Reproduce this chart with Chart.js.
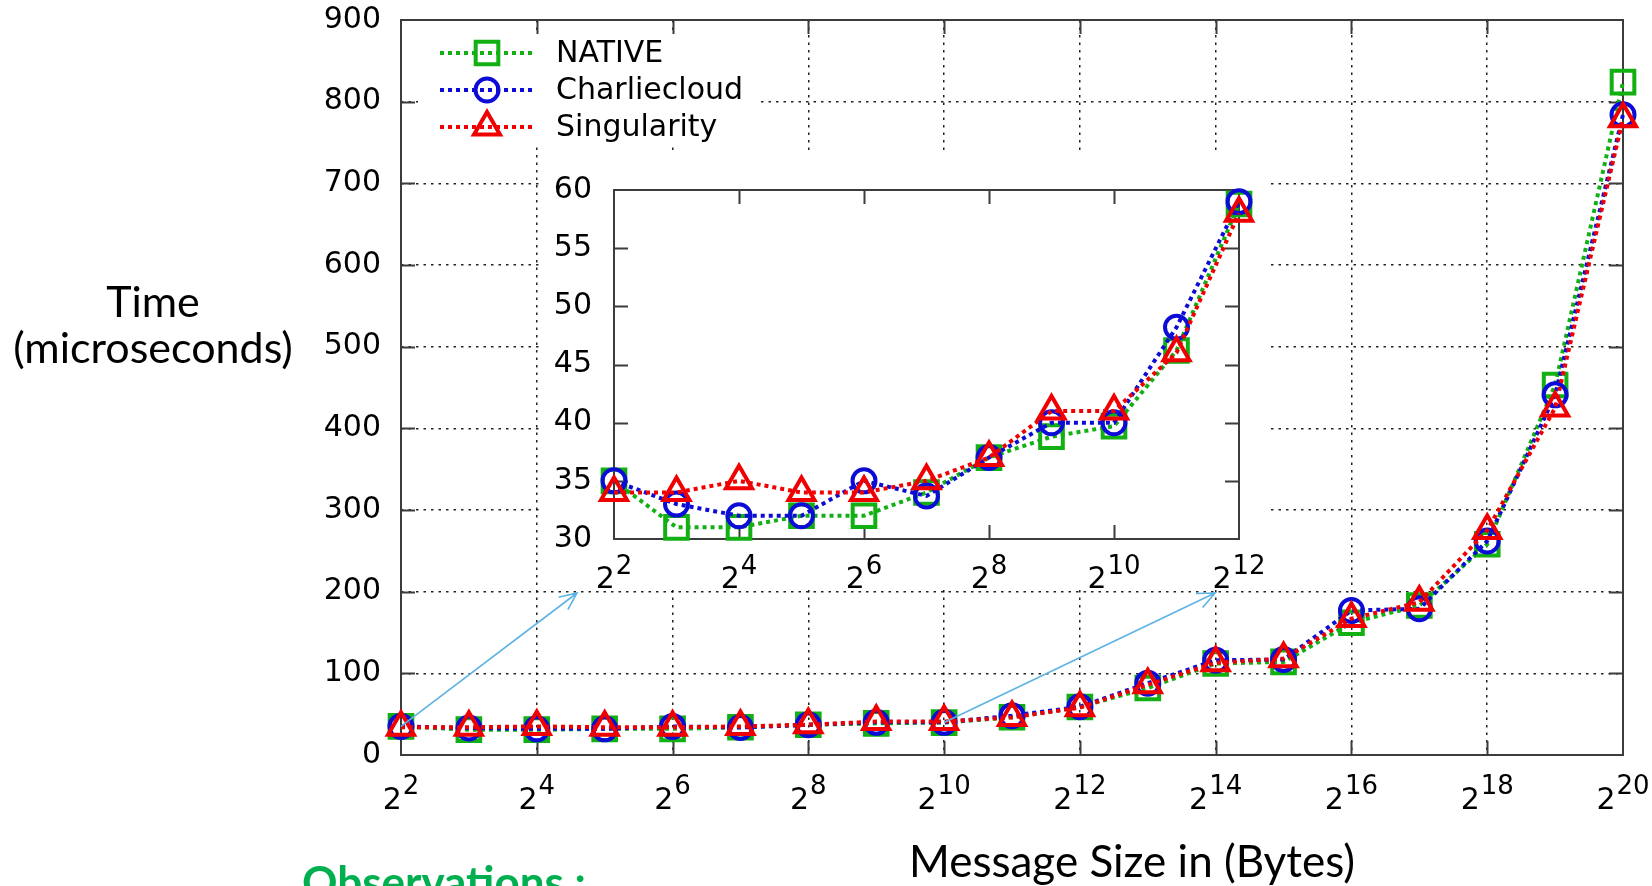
<!DOCTYPE html>
<html>
<head>
<meta charset="utf-8">
<script src="https://cdn.jsdelivr.net/npm/chart.js@4/dist/chart.umd.min.js"></script>
<style>
  html, body { margin: 0; padding: 0; background: #fff; width: 1652px; height: 886px; overflow: hidden; position: relative; }
  #main { position: absolute; left: 0; top: 0; }
  #inset { position: absolute; left: 541px; top: 150px; }
  .t { position: absolute; font-family: Lato, "Open Sans", sans-serif; color: #000; white-space: nowrap; }
  #ytitle { left: 3px; width: 300px; top: 278px; text-align: center; font-size: 43px; line-height: 46px; }
  #xtitle { left: 882px; width: 500px; top: 834px; text-align: center; font-size: 44px; line-height: 52.8px; }
  #obs { left: 302px; top: 859px; color: #00b050; font-weight: bold; font-size: 44px; line-height: 44px; }
</style>
</head>
<body>
<canvas id="main" width="1652" height="886"></canvas>
<canvas id="inset" width="725" height="440"></canvas>
<div class="t" id="ytitle">Time<br>(microseconds)</div>
<div class="t" id="xtitle">Message Size in (Bytes)</div>
<div class="t" id="obs">Observations :</div>
<script>
// Message size, as the exponent of 2 (bytes)
const msgExp = [2, 3, 4, 5, 6, 7, 8, 9, 10, 11, 12, 13, 14, 15, 16, 17, 18, 19, 20];

// Latency in microseconds for each runtime
const nativeTime       = [35, 31, 31, 32, 32, 34,   37, 38.8, 39.7, 46.2, 58.8, 82, 112, 114, 162, 183, 258, 453, 824];
const charliecloudTime = [35, 33, 32, 32, 35, 33.7, 37, 40,   40,   48.2, 59,   88, 116, 117, 177, 179, 262, 441, 784];
const singularityTime  = [34, 34, 35, 34, 34, 35,   37, 41,   41,   46,   58,   86, 113, 118, 167, 187, 275, 425, 779];

const seriesNames = ['NATIVE', 'Charliecloud', 'Singularity'];

// Axis ticks (x ticks are exponents of 2)
const mainXTicks  = [2, 4, 6, 8, 10, 12, 14, 16, 18, 20];
const mainYTicks  = [0, 100, 200, 300, 400, 500, 600, 700, 800, 900];
const insetXTicks = [2, 4, 6, 8, 10, 12];
const insetYTicks = [30, 35, 40, 45, 50, 55, 60];

const TICK_FONT = '"DejaVu Sans", sans-serif';
const COLORS = ['#12b012', '#0c0cd6', '#f00000'];
const STYLES = [
  { pointStyle: 'rect',     pointRadius: 16 },
  { pointStyle: 'circle',   pointRadius: 11.5 },
  { pointStyle: 'triangle', pointRadius: 15 }
];

function makeDatasets(maxExp) {
  const series = [nativeTime, charliecloudTime, singularityTime];
  return series.map((vals, i) => ({
    label: seriesNames[i],
    data: msgExp.map((e, k) => ({ x: e, y: vals[k] })).filter(p => p.x <= maxExp),
    borderColor: COLORS[i],
    backgroundColor: 'rgba(0,0,0,0)',
    borderWidth: 4,
    borderDash: [4, 4],
    pointStyle: STYLES[i].pointStyle,
    pointRadius: STYLES[i].pointRadius,
    pointBorderWidth: 4,
    pointBorderColor: COLORS[i],
    pointBackgroundColor: 'rgba(0,0,0,0)',
    pointHoverRadius: STYLES[i].pointRadius,
    tension: 0,
    clip: false,
    order: i === 0 ? 2 : (i === 1 ? 1 : 0)
  }));
}

// Plot border with inward tick marks on all four sides
const framePlugin = {
  id: 'frame',
  beforeDatasetsDraw(chart, args, opts) {
    const { ctx, chartArea: a, scales: { x, y } } = chart;
    const L = opts.tickLen;
    ctx.save();
    ctx.strokeStyle = '#3c3c3c';
    ctx.lineWidth = 2;
    ctx.setLineDash([]);
    ctx.beginPath();
    x.ticks.forEach(t => {
      if (t.value <= x.min || t.value >= x.max) return;
      const px = Math.round(x.getPixelForValue(t.value)) + 0.5;
      ctx.moveTo(px, a.bottom); ctx.lineTo(px, a.bottom - L);
      ctx.moveTo(px, a.top);    ctx.lineTo(px, a.top + L);
    });
    y.ticks.forEach(t => {
      if (t.value <= y.min || t.value >= y.max) return;
      const py = Math.round(y.getPixelForValue(t.value)) + 0.5;
      ctx.moveTo(a.left, py);  ctx.lineTo(a.left + L, py);
      ctx.moveTo(a.right, py); ctx.lineTo(a.right - L, py);
    });
    ctx.stroke();
    ctx.strokeRect(a.left, a.top, a.right - a.left, a.bottom - a.top);
    ctx.restore();
  }
};

// "2^n" labels under the x axis
const powLabelsPlugin = {
  id: 'powLabels',
  afterDraw(chart, args, opts) {
    const { ctx, scales: { x } } = chart;
    const baseFont = '30px ' + TICK_FONT;
    const expFont = '26px ' + TICK_FONT;
    ctx.save();
    ctx.fillStyle = '#000';
    ctx.textBaseline = 'alphabetic';
    ctx.textAlign = 'left';
    opts.exps.forEach(e => {
      const px = x.getPixelForValue(e);
      ctx.font = baseFont;
      const bw = ctx.measureText('2').width;
      ctx.font = expFont;
      const ew = ctx.measureText(String(e)).width;
      const left = px - (bw + 1 + ew) / 2;
      ctx.font = baseFont;
      ctx.fillText('2', left, opts.baseline);
      ctx.font = expFont;
      ctx.fillText(String(e), left + bw + 1, opts.baseline - opts.raise);
    });
    ctx.restore();
  }
};

function drawMarker(ctx, style, radius, cx, cy) {
  if (Chart.helpers && Chart.helpers.drawPoint) {
    Chart.helpers.drawPoint(ctx, { pointStyle: style, radius: radius, rotation: 0, borderWidth: 4 }, cx, cy);
    return;
  }
  ctx.beginPath();
  if (style === 'rect') {
    const s = radius * Math.SQRT1_2;
    ctx.rect(cx - s, cy - s, 2 * s, 2 * s);
  } else if (style === 'circle') {
    ctx.arc(cx, cy, radius, 0, Math.PI * 2);
  } else {
    for (let k = 0; k < 3; k++) {
      const ang = k * 2 * Math.PI / 3;
      const px = cx + Math.sin(ang) * radius, py = cy - Math.cos(ang) * radius;
      k === 0 ? ctx.moveTo(px, py) : ctx.lineTo(px, py);
    }
    ctx.closePath();
  }
  ctx.stroke();
}

// Key in the upper-left corner of the plot
const keyPlugin = {
  id: 'key',
  afterDraw(chart, args, opts) {
    const ctx = chart.ctx;
    ctx.save();
    ctx.fillStyle = '#fff';
    ctx.fillRect(opts.box[0], opts.box[1], opts.box[2], opts.box[3]);
    chart.data.datasets.forEach((ds, i) => {
      const ry = opts.rows[i];
      ctx.strokeStyle = ds.borderColor;
      ctx.lineWidth = 4;
      ctx.setLineDash([4, 4]);
      ctx.beginPath();
      ctx.moveTo(opts.lineX[0], ry);
      ctx.lineTo(opts.lineX[1], ry);
      ctx.stroke();
      ctx.setLineDash([]);
      ctx.fillStyle = 'rgba(0,0,0,0)';
      drawMarker(ctx, ds.pointStyle, ds.pointRadius, opts.markerX, ry);
      ctx.fillStyle = '#000';
      ctx.font = '30px ' + TICK_FONT;
      ctx.textBaseline = 'middle';
      ctx.textAlign = 'left';
      ctx.fillText(ds.label, opts.textX, ry + 1);
    });
    ctx.restore();
  }
};

// Pointers from the main curve to the zoomed panel
const pointerPlugin = {
  id: 'pointers',
  afterDraw(chart, args, opts) {
    const { ctx, scales: { x, y } } = chart;
    ctx.save();
    ctx.strokeStyle = '#5db3e3';
    ctx.lineWidth = 1.6;
    ctx.setLineDash([]);
    opts.items.forEach(it => {
      const sx = x.getPixelForValue(it.fromX), sy = y.getPixelForValue(it.fromY);
      const [tx, ty] = it.to;
      const ang = Math.atan2(ty - sy, tx - sx);
      ctx.beginPath();
      ctx.moveTo(sx, sy);
      ctx.lineTo(tx, ty);
      const h = 19, spread = 0.42;
      ctx.moveTo(tx - h * Math.cos(ang - spread), ty - h * Math.sin(ang - spread));
      ctx.lineTo(tx, ty);
      ctx.lineTo(tx - h * Math.cos(ang + spread), ty - h * Math.sin(ang + spread));
      ctx.stroke();
    });
    ctx.restore();
  }
};

const whiteBgPlugin = {
  id: 'whiteBg',
  beforeDraw(chart) {
    const ctx = chart.ctx;
    ctx.save();
    ctx.fillStyle = '#fff';
    ctx.fillRect(0, 0, chart.width, chart.height);
    ctx.restore();
  }
};

function gridColor(min, max) {
  return ctx => (ctx.tick && (ctx.tick.value <= min || ctx.tick.value >= max)) ? 'rgba(0,0,0,0)' : 'rgba(10,10,10,0.9)';
}

// Fixed axis sizes so the plot area lands where the layout wants it
function fixWidth(w) {
  return s => { s.width = w; s.paddingTop = 0; s.paddingBottom = 0; };
}
function fixHeight(h) {
  return s => { s.height = h; s.paddingLeft = 0; s.paddingRight = 0; };
}

// Main chart: full message-size range
new Chart(document.getElementById('main'), {
  type: 'line',
  data: { datasets: makeDatasets(20) },
  options: {
    responsive: false,
    animation: false,
    devicePixelRatio: 1,
    layout: { padding: { top: 20, right: 29, left: 0, bottom: 0 } },
    scales: {
      x: {
        type: 'linear', min: 2, max: 20,
        afterBuildTicks: s => { s.ticks = mainXTicks.map(v => ({ value: v })); },
        afterFit: fixHeight(131),
        ticks: { display: false },
        grid: { color: gridColor(2, 20), lineWidth: 1.5, drawTicks: false },
        border: { display: false, dash: [2.5, 5] }
      },
      y: {
        min: 0, max: 900,
        afterBuildTicks: s => { s.ticks = mainYTicks.map(v => ({ value: v })); },
        afterFit: fixWidth(401),
        ticks: { color: '#000', font: { family: 'DejaVu Sans', size: 30 }, padding: 20 },
        grid: { color: gridColor(0, 900), lineWidth: 1.5, drawTicks: false },
        border: { display: false, dash: [2.5, 5] }
      }
    },
    plugins: {
      legend: { display: false },
      tooltip: { enabled: false },
      frame: { tickLen: 14 },
      powLabels: { exps: mainXTicks, baseline: 809, raise: 15 },
      key: { box: [418, 34, 342, 113], rows: [53, 90, 127], lineX: [440, 532], markerX: 487, textX: 556 },
      pointers: {
        items: [
          { fromX: msgExp[0], fromY: nativeTime[0], to: [577, 593] },
          { fromX: msgExp[8], fromY: nativeTime[8], to: [1215, 593] }
        ]
      }
    }
  },
  plugins: [framePlugin, powLabelsPlugin, keyPlugin, pointerPlugin]
});

// Zoomed panel: 2^2 .. 2^12
new Chart(document.getElementById('inset'), {
  type: 'line',
  data: { datasets: makeDatasets(12) },
  options: {
    responsive: false,
    animation: false,
    devicePixelRatio: 1,
    layout: { padding: { top: 40, right: 27, left: 0, bottom: 0 } },
    scales: {
      x: {
        type: 'linear', min: 2, max: 12,
        afterBuildTicks: s => { s.ticks = insetXTicks.map(v => ({ value: v })); },
        afterFit: fixHeight(51),
        ticks: { display: false },
        grid: { display: false, drawTicks: false },
        border: { display: false }
      },
      y: {
        min: 30, max: 60,
        afterBuildTicks: s => { s.ticks = insetYTicks.map(v => ({ value: v })); },
        afterFit: fixWidth(73),
        ticks: { color: '#000', font: { family: 'DejaVu Sans', size: 30 }, padding: 22 },
        grid: { display: false, drawTicks: false },
        border: { display: false }
      }
    },
    plugins: {
      legend: { display: false },
      tooltip: { enabled: false },
      frame: { tickLen: 14 },
      powLabels: { exps: insetXTicks, baseline: 438, raise: 14 }
    }
  },
  plugins: [whiteBgPlugin, framePlugin, powLabelsPlugin]
});
</script>
</body>
</html>
